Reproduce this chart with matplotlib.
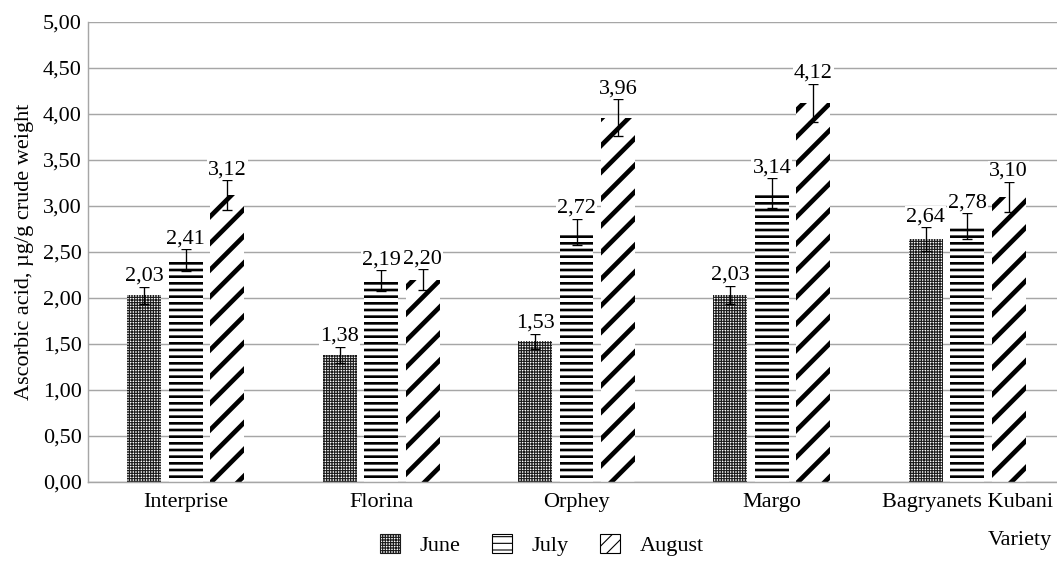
import matplotlib
matplotlib.use("Agg")
import matplotlib.pyplot as plt
from matplotlib.patches import Patch
import numpy as np

plt.rcParams["font.family"] = ["Liberation Serif", "DejaVu Serif"]

# ----------------------------
# Data
# ----------------------------
varieties = ["Interprise", "Florina", "Orphey", "Margo", "Bagryanets Kubani"]
months = ["June", "July", "August"]
june   = [2.03, 1.38, 1.53, 2.03, 2.64]
july   = [2.41, 2.19, 2.72, 3.14, 2.78]
august = [3.12, 2.20, 3.96, 4.12, 3.10]
june_err   = [0.09, 0.09, 0.08, 0.10, 0.13]
july_err   = [0.12, 0.11, 0.14, 0.16, 0.14]
august_err = [0.16, 0.11, 0.20, 0.21, 0.16]
yticks = [0.0, 0.5, 1.0, 1.5, 2.0, 2.5, 3.0, 3.5, 4.0, 4.5, 5.0]

# styles: (face, hatch colour, bar hatch, legend hatch, hatch linewidth)
STYLES = [
    ("white", "#1a1a1a", "+++++", "+++++", 1.0),
    ("white", "black", "--", "--", 2.4),
    ("white", "black", "/", "//", 4.2),
]
GRID = "#a6a6a6"
FS = 20

DPI = 80
fig = plt.figure(figsize=(1057 / DPI, 567 / DPI), dpi=DPI)
ax = fig.add_axes([88 / 1057, 85 / 567, 977 / 1057, 460 / 567])

x = np.arange(len(varieties))
offset = 0.212
width = 0.174
series = [(june, june_err), (july, july_err), (august, august_err)]

handles = []
for i, ((vals, errs), (fc, hc, hatch, lhatch, hlw)) in enumerate(zip(series, STYLES)):
    xs = x + (i - 1) * offset
    with plt.rc_context({"hatch.linewidth": hlw}):
        bars = ax.bar(xs, vals, width, color=fc, edgecolor=hc, hatch=hatch,
                      linewidth=0, zorder=2)
        for b in bars:
            if hasattr(b, "set_hatch_linewidth"):
                b.set_hatch_linewidth(hlw)
        h = Patch(facecolor=fc, edgecolor=hc, hatch=lhatch, linewidth=1.0,
                  label=months[i])
        if hasattr(h, "set_hatch_linewidth"):
            h.set_hatch_linewidth(hlw * (0.7 if i == 2 else 1.0))
        handles.append(h)
    ax.errorbar(xs, vals, yerr=errs, fmt="none", ecolor="black",
                elinewidth=1.2, capsize=4.5, capthick=1.2, zorder=3)
    for xx, v, e in zip(xs, vals, errs):
        ax.annotate(f"{v:.2f}".replace(".", ","), (xx, v + e),
                    xytext=(0, 1), textcoords="offset points",
                    ha="center", va="bottom", fontsize=FS, zorder=4,
                    bbox=dict(boxstyle="square,pad=0.05", fc="white", ec="none"))

ax.set_xlim(-0.5, len(varieties) - 0.5)
ax.set_ylim(0, 5)
ax.set_yticks(yticks)
ax.set_yticklabels([f"{t:.2f}".replace(".", ",") for t in yticks], fontsize=FS)
ax.set_xticks(x)
ax.set_xticklabels(varieties, fontsize=FS)
ax.tick_params(axis="x", length=0, pad=10)
ax.tick_params(axis="y", length=0, pad=5.5)

ax.grid(axis="y", color=GRID, linewidth=1.3, zorder=0)
ax.set_axisbelow(True)
for s in ("top", "right"):
    ax.spines[s].set_visible(False)
for s in ("left", "bottom"):
    ax.spines[s].set_color(GRID)
    ax.spines[s].set_linewidth(1.3)

ax.set_ylabel("Ascorbic acid, µg/g crude weight", fontsize=FS, labelpad=8)

fig.text(1052 / 1057, 1 - 541 / 567, "Variety", ha="right", va="center", fontsize=FS)

fig.legend(handles=handles, loc="center", bbox_to_anchor=(542 / 1057, 1 - 545 / 567),
           ncol=3, frameon=False, fontsize=FS, handlelength=0.9, handleheight=0.9,
           handletextpad=0.9, columnspacing=1.4)

fig.savefig("out.png", dpi=DPI)
